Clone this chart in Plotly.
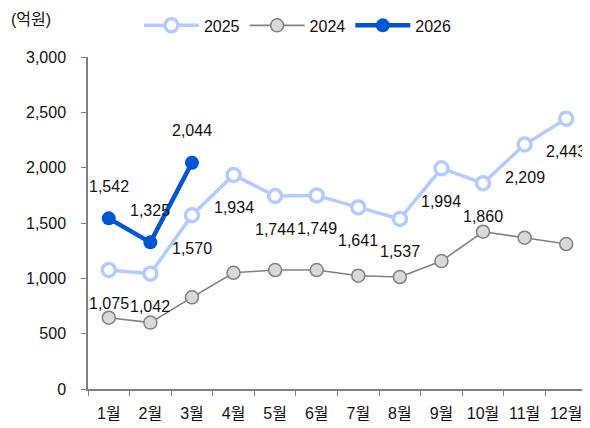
import plotly.graph_objects as go

months = ["1월", "2월", "3월", "4월", "5월", "6월", "7월", "8월", "9월", "10월", "11월", "12월"]
v2025 = [1075, 1042, 1570, 1934, 1744, 1749, 1641, 1537, 1994, 1860, 2209, 2443]
v2024 = [644, 600, 828, 1050, 1075, 1075, 1024, 1012, 1156, 1421, 1367, 1310]
v2026 = [1542, 1325, 2044]
yticks = [0, 500, 1000, 1500, 2000, 2500, 3000]

FONT = "Liberation Sans, Arial, Noto Sans CJK KR, sans-serif"
FS = 16

fig = go.Figure()
fig.add_trace(go.Scatter(
    x=months, y=v2024, name="2024", mode="lines+markers",
    line=dict(color="#808080", width=1.6),
    marker=dict(size=13, color="#D9D9D9", line=dict(color="#808080", width=1.5)),
    legendrank=2))
fig.add_trace(go.Scatter(
    x=months, y=v2025, name="2025", mode="lines+markers",
    line=dict(color="#B4CBFF", width=3.5),
    marker=dict(size=13, color="white", line=dict(color="#B4CBFF", width=3.5)),
    legendrank=1))
fig.add_trace(go.Scatter(
    x=months[:len(v2026)], y=v2026, name="2026", mode="lines+markers",
    line=dict(color="#0055D4", width=4.5),
    marker=dict(size=14, color="#0055D4"),
    legendrank=3))

for m, v in zip(months, v2025):
    fig.add_annotation(x=m, y=v, text=f"{v:,}", showarrow=False, yshift=-33,
                       font=dict(size=FS, color="#111111", family=FONT))
for m, v in zip(months, v2026):
    fig.add_annotation(x=m, y=v, text=f"{v:,}", showarrow=False, yshift=32,
                       font=dict(size=FS, color="#111111", family=FONT))

fig.add_annotation(xref="paper", yref="paper", x=-0.158, y=1.145, xanchor="left", yanchor="top",
                   text="(억원)", showarrow=False, font=dict(size=FS, color="#111111", family=FONT))

fig.update_layout(
    width=582, height=420,
    margin=dict(l=80, r=3, t=49, b=39, autoexpand=False),
    plot_bgcolor="white", paper_bgcolor="white",
    font=dict(family=FONT, size=FS, color="#111111"),
    showlegend=True,
    legend=dict(orientation="h", x=0.102, y=1.095, xanchor="left", yanchor="middle",
                itemwidth=55, font=dict(size=FS, family=FONT), bgcolor="rgba(0,0,0,0)",
                tracegroupgap=0, itemclick=False),
    xaxis=dict(type="category", categoryorder="array", categoryarray=months,
               showline=True, linecolor="#808080", linewidth=1.5,
               ticks="outside", ticklen=5, tickcolor="#808080", tickson="boundaries",
               showgrid=False, zeroline=False, ticklabelstandoff=9, tickangle=0,
               automargin=False, range=[-0.5, 11.5]),
    yaxis=dict(range=[0, 3000], tickvals=yticks, tickformat=",",
               showline=True, linecolor="#808080", linewidth=1.5,
               ticks="outside", ticklen=5, tickcolor="#808080",
               showgrid=False, zeroline=False, ticklabelstandoff=12, automargin=False),
)

fig.write_html("out.html")
